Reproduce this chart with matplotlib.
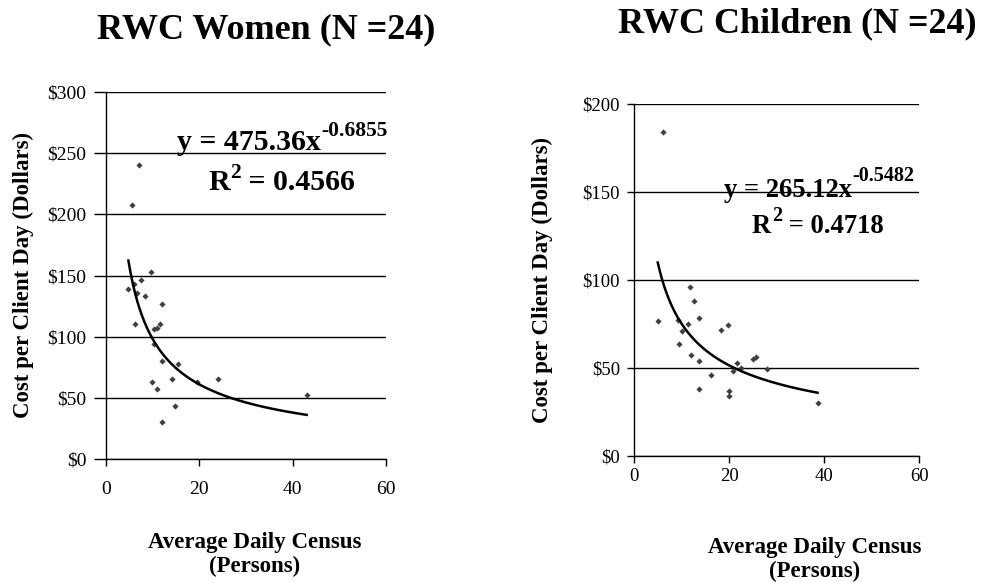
import matplotlib
matplotlib.use("Agg")
import matplotlib.pyplot as plt
import numpy as np

plt.rcParams['font.family'] = ['Liberation Serif', 'DejaVu Serif']

# ---- Data: RWC Women ----
women_census = [7.1, 5.6, 9.6, 7.4, 4.8, 6.1, 6.6, 8.4, 12.1, 6.3, 10.2, 10.9,
                11.6, 10.3, 12.1, 15.4, 9.9, 14.2, 19.5, 24.1, 10.9, 14.7, 12.1, 43.0]
women_cost = [240, 208, 153, 146, 139, 143, 136, 133, 127, 110, 106, 107,
              110, 94, 80, 78, 63, 65, 63, 65, 57, 43, 30, 52]
women_coef, women_exp, women_r2 = 475.36, -0.6855, 0.4566

# ---- Data: RWC Children ----
child_census = [6.2, 5.0, 11.8, 12.7, 13.7, 9.2, 11.3, 10.0, 9.5, 12.0, 13.7, 18.4,
                19.7, 16.1, 13.7, 20.0, 20.0, 21.6, 20.8, 22.6, 25.1, 25.7, 27.9, 38.6]
child_cost = [184, 76.5, 96, 88, 78, 77, 75, 71, 63.5, 57, 54, 71.4,
              74.4, 46, 38, 37, 34, 52.5, 48, 50, 55, 56, 49.4, 30]
child_coef, child_exp, child_r2 = 265.12, -0.5482, 0.4718

x_ticks = [0, 20, 40, 60]

W, H = 988, 582
fig = plt.figure(figsize=(W / 100, H / 100), dpi=100)
renderer = fig.canvas.get_renderer()


def fx(px):
    return px / W


def fy(py):
    return 1 - py / H


def px_axes(x0, y0, x1, y1):
    return fig.add_axes([x0 / W, 1 - y1 / H, (x1 - x0) / W, (y1 - y0) / H])


def style(ax, ymax, ystep, lsize, ylen, xpad):
    ax.set_xlim(0, 60)
    ax.set_ylim(0, ymax)
    ax.set_xticks(x_ticks)
    yt = np.arange(0, ymax + 1, ystep)
    ax.set_yticks(yt)
    ax.set_yticklabels([f"${int(v)}" for v in yt])
    for s in ['top', 'right']:
        ax.spines[s].set_visible(False)
    for s in ['left', 'bottom']:
        ax.spines[s].set_color('black')
        ax.spines[s].set_linewidth(1.0)
    ax.grid(axis='y', color='black', linewidth=1.0)
    ax.set_axisbelow(True)
    ax.tick_params(axis='y', direction='out', length=ylen, width=1, labelsize=lsize,
                   colors='black', pad=5)
    ax.tick_params(axis='x', direction='out', length=5, width=1, labelsize=lsize,
                   colors='black', pad=xpad)


def draw(ax, xs, ys, coef, expo):
    ax.scatter(xs, ys, marker='D', s=10, color='#404040', zorder=3, linewidths=0)
    xx = np.linspace(min(xs), max(xs), 200)
    ax.plot(xx, coef * xx ** expo, color='black', linewidth=1.8, zorder=4)


ax1 = px_axes(106, 92, 386, 459)
style(ax1, 300, 50, 14, 9, 11)
draw(ax1, women_census, women_cost, women_coef, women_exp)

ax2 = px_axes(634, 103.7, 919.3, 455.7)
style(ax2, 200, 50, 13.5, 5, 4)
draw(ax2, child_census, child_cost, child_coef, child_exp)

# titles
fig.text(fx(266), fy(38), "RWC Women (N =24)", ha='center', va='baseline',
         fontsize=26, fontweight='bold')
fig.text(fx(797), fy(32), "RWC Children (N =24)", ha='center', va='baseline',
         fontsize=26, fontweight='bold')

# axis labels
ylab = "Cost per Client Day (Dollars)"
fig.text(fx(23), fy(275), ylab, rotation=90, ha='center', va='center',
         fontsize=16.5, fontweight='bold')
fig.text(fx(542), fy(280), ylab, rotation=90, ha='center', va='center',
         fontsize=16.5, fontweight='bold')
for cx, b1 in [(255, 548), (815, 553)]:
    fig.text(fx(cx), fy(b1), "Average Daily Census", ha='center', va='baseline',
             fontsize=16.5, fontweight='bold')
    fig.text(fx(cx), fy(b1 + 24), "(Persons)", ha='center', va='baseline',
             fontsize=16.5, fontweight='bold')


def seq(x, y, parts):
    """Draw a run of (text, size, rise) pieces left to right on one baseline."""
    cur = x
    for txt, size, rise in parts:
        t = fig.text(fx(cur), fy(y - rise), txt, ha='left', va='baseline',
                     fontsize=size, fontweight='bold')
        cur = t.get_window_extent(renderer=renderer).x1 + 0.5


seq(177, 150, [(f"y = {women_coef:.2f}x", 21.5, 0), (f"{women_exp:.4f}", 15.5, 14)])
seq(208, 190, [("R", 21.5, 0), ("2", 15.5, 12), (f" = {women_r2:.4f}", 21.5, 0)])
seq(724, 197, [(f"y = {child_coef:.2f}x", 19.2, 0), (f"{child_exp:.4f}", 14.5, 16)])
seq(752, 233, [("R", 19.2, 0), ("2", 14.5, 12), (f" = {child_r2:.4f}", 19.2, 0)])

fig.savefig("out.png", dpi=100)
